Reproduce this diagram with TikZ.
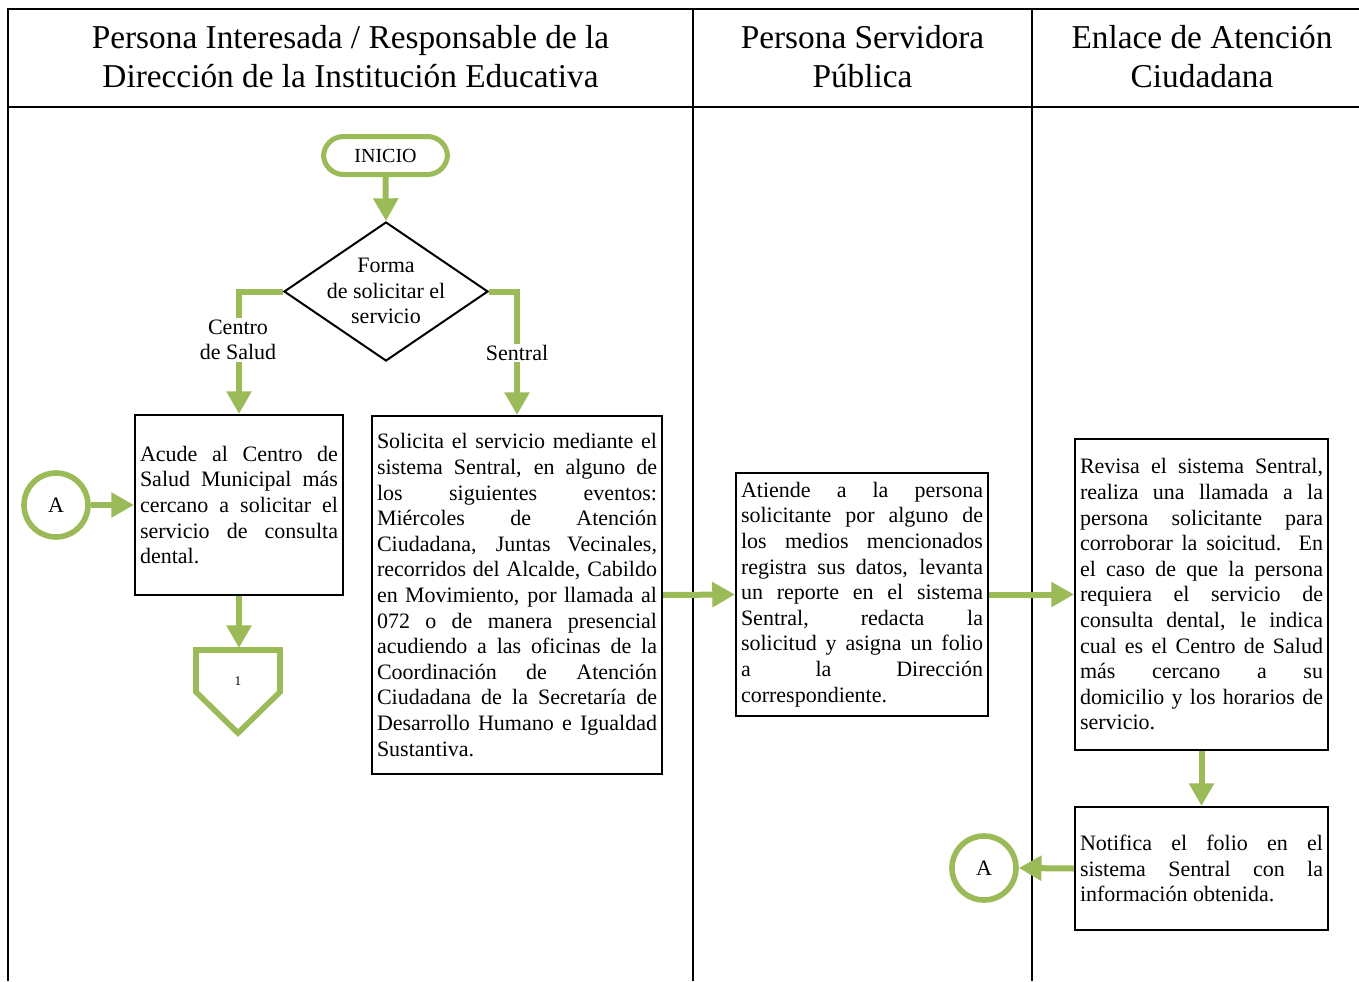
\documentclass[tikz,border=0pt]{standalone}
\usepackage{fontspec}
\setmainfont{Liberation Serif}
\usetikzlibrary{arrows.meta,shapes.geometric}
\definecolor{grn}{HTML}{9BBB59}
\newcommand{\JL}[1]{\par\noindent\hbox to\hsize{\spaceskip=0pt\xspaceskip=0pt #1}\par}
\newcommand{\LL}[1]{\par\noindent #1\par}
\newcommand{\BT}[2]{\parbox{#1}{\spaceskip=0pt\xspaceskip=0pt #2}}
\begin{document}
\begin{tikzpicture}[x=0.75pt,y=-0.75pt,
  frame/.style={line width=1.5pt},
  hdr/.style={align=center,font=\fontsize{25}{29.25}\selectfont},
  proc/.style={draw,line width=1.6pt,rectangle,inner xsep=3.75pt,inner ysep=0pt,font=\fontsize{16.5}{19.2}\selectfont},
  garrow/.style={draw=grn,line width=4.5pt,-{Triangle[length=17pt,width=18pt]}},
  gring/.style={draw=grn,line width=4.2pt},
  lbl/.style={font=\fontsize{16.5}{19.2}\selectfont,align=center,fill=white,inner sep=1pt},
  txt/.style={font=\fontsize{16.5}{19.2}\selectfont,align=center}
]
\useasboundingbox (0,0) rectangle (1359,981);
% frame
\draw[frame] (8,981) -- (8,9) -- (1359,9);
\draw[frame] (8,107) -- (1359,107);
\draw[frame] (693,9) -- (693,981);
\draw[frame] (1032,9) -- (1032,981);
% headers
\node[hdr] (h1) at (350.5,57) {Persona Interesada / Responsable de la\\Dirección de la Institución Educativa};
\node[hdr] (h2) at (862.5,57) {Persona Servidora\\Pública};
\node[hdr] (h3) at (1202,57) {Enlace de Atención\\Ciudadana};
% start
\node[draw=grn,line width=3.75pt,rounded corners=15pt,minimum width=93pt,minimum height=28.5pt,inner sep=0pt,font=\fontsize{15}{18}\selectfont] (ini) at (385.5,155.5) {INICIO};
\node[diamond,draw,line width=1.5pt,minimum width=153pt,minimum height=104.25pt,inner sep=0pt] (dec) at (386,291.5) {};
\node[txt] (dect) at (386,291) {Forma\\de solicitar el\\servicio};
% boxes
\node[proc,minimum width=156pt,minimum height=135pt] (b1) at (239,505) {\BT{148.5pt}{%
\JL{Acude al Centro de}
\JL{Salud Municipal más}
\JL{cercano a solicitar el}
\JL{servicio de consulta}
\LL{dental.}}};
\node[proc,minimum width=217.5pt,minimum height=268.5pt] (b2) at (517,595) {\BT{210pt}{%
\JL{Solicita el servicio mediante el}
\JL{sistema Sentral, en alguno de}
\JL{los siguientes eventos:}
\JL{Miércoles de Atención}
\JL{Ciudadana, Juntas Vecinales,}
\JL{recorridos del Alcalde, Cabildo}
\JL{en Movimiento, por llamada al}
\JL{072 o de manera presencial}
\JL{acudiendo a las oficinas de la}
\JL{Coordinación de Atención}
\JL{Ciudadana de la Secretaría de}
\JL{Desarrollo Humano e Igualdad}
\LL{Sustantiva.}}};
\node[proc,minimum width=189pt,minimum height=182.25pt] (b3) at (862,594.5) {\BT{181.5pt}{%
\JL{Atiende a la persona}
\JL{solicitante por alguno de}
\JL{los medios mencionados}
\JL{registra sus datos, levanta}
\JL{un reporte en el sistema}
\JL{Sentral, redacta la}
\JL{solicitud y asigna un folio}
\JL{a la Dirección}
\LL{correspondiente.}}};
\node[proc,minimum width=189.75pt,minimum height=233.25pt] (b4) at (1201.5,594.5) {\BT{182.25pt}{%
\JL{Revisa el sistema Sentral,}
\JL{realiza una llamada a la}
\JL{persona solicitante para}
\JL{corroborar la soicitud. En}
\JL{el caso de que la persona}
\JL{requiera el servicio de}
\JL{consulta dental, le indica}
\JL{cual es el Centro de Salud}
\JL{más cercano a su}
\JL{domicilio y los horarios de}
\LL{servicio.}}};
\node[proc,minimum width=189.75pt,minimum height=92.25pt] (b5) at (1201.5,868.5) {\BT{182.25pt}{%
\JL{Notifica el folio en el}
\JL{sistema Sentral con la}
\LL{información obtenida.}}};
% connectors A
\node[circle,gring,minimum size=48pt,inner sep=0pt,font=\fontsize{16.5}{19.2}\selectfont] (cA1) at (56,505) {A};
\node[circle,gring,minimum size=48pt,inner sep=0pt,font=\fontsize{16.5}{19.2}\selectfont] (cA2) at (984,868) {A};
% off-page connector
\draw[gring,line join=miter] (196,650) -- (280,650) -- (280,692) -- (238,733) -- (196,692) -- cycle;
\coordinate (op) at (239,648);
\node[font=\fontsize{10}{12}\selectfont] (opl) at (238,681) {1};
% arrows
\draw[garrow] (ini.south) -- (dec.north);
\draw[garrow] (dec.west) -| (b1.north);
\node[lbl] (l1) at (238,340) {Centro\\de Salud};
\draw[garrow] (dec.east) -| (b2.north);
\node[lbl] (l2) at (517,353) {Sentral};
\draw[garrow] (cA1.east) -- (b1.west);
\draw[garrow] (b1.south) -- (op);
\draw[garrow] (b2.east) -- (b3.west);
\draw[garrow] (b3.east) -- (b4.west);
\draw[garrow] (b4.south) -- (b5.north);
\draw[garrow] (b5.west) -- (cA2.east);
\end{tikzpicture}
\end{document}
